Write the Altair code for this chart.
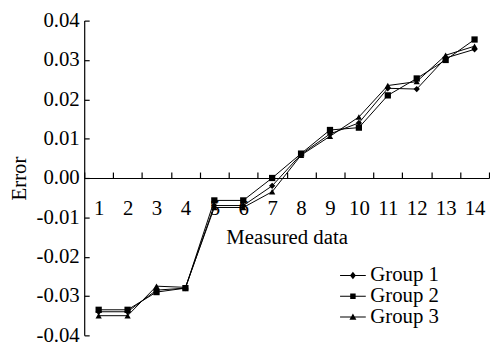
import altair as alt
import pandas as pd

measured = list(range(1, 15))
groups = ["Group 1", "Group 2", "Group 3"]
group1 = [-0.0340, -0.0340, -0.0285, -0.0280, -0.0070, -0.0070, -0.0020, 0.0060, 0.0112, 0.0140, 0.0228, 0.0226, 0.0305, 0.0327]
group2 = [-0.0335, -0.0335, -0.0290, -0.0280, -0.0057, -0.0057, 0.0000, 0.0062, 0.0122, 0.0128, 0.0210, 0.0253, 0.0300, 0.0352]
group3 = [-0.0350, -0.0350, -0.0275, -0.0278, -0.0075, -0.0075, -0.0035, 0.0058, 0.0106, 0.0155, 0.0235, 0.0245, 0.0312, 0.0335]
y_ticks = [-0.04, -0.03, -0.02, -0.01, 0.0, 0.01, 0.02, 0.03, 0.04]
x_edges = [i + 0.5 for i in range(0, 15)]

rows = []
for g, vals in zip(groups, [group1, group2, group3]):
    for m, v in zip(measured, vals):
        rows.append({"m": m, "err": v, "group": g})
df = pd.DataFrame(rows)

W, H = 409, 318
FONT = "Liberation Serif"
FS = 21

xscale = alt.Scale(domain=[0.5, 14.5], nice=False, zero=False)
yscale = alt.Scale(domain=[-0.04, 0.04], nice=False, zero=False)

label_expr = "datum.value < 0 ? '-' + format(abs(datum.value), '.2f') : format(datum.value, '.2f')"

lines = alt.Chart(df).mark_line(color="black", strokeWidth=1).encode(
    x=alt.X("m:Q", scale=xscale,
            axis=alt.Axis(orient="top", offset=-H / 2, values=x_edges, labels=False,
                          ticks=True, tickSize=6, domain=True, grid=False, title=None,
                          domainColor="black", tickColor="black", domainWidth=1.2, tickWidth=1.2)),
    y=alt.Y("err:Q", scale=yscale,
            axis=alt.Axis(orient="right", offset=-W, values=y_ticks, labels=False,
                          ticks=True, tickSize=5, domain=True, grid=False, title=None,
                          domainColor="black", tickColor="black", domainWidth=1.2, tickWidth=1.2)),
    detail="group:N",
)

points = alt.Chart(df).mark_point(filled=True, size=40, color="black", opacity=1).encode(
    x=alt.X("m:Q", scale=xscale,
            axis=alt.Axis(orient="bottom", offset=-H / 2, values=measured, format="d",
                          ticks=False, tickSize=0, domain=False, grid=False,
                          labelPadding=20, labelFont=FONT, labelFontSize=FS, labelColor="black",
                          title="Measured data", titleFont=FONT, titleFontSize=FS,
                          titleFontWeight="normal", titleColor="black", titlePadding=8)),
    y=alt.Y("err:Q", scale=yscale,
            axis=alt.Axis(orient="left", values=y_ticks, labelExpr=label_expr,
                          ticks=False, tickSize=0, domain=False, grid=False,
                          labelPadding=5, labelFont=FONT, labelFontSize=FS, labelColor="black",
                          title="Error", titleFont=FONT, titleFontSize=FS,
                          titleFontWeight="normal", titleColor="black", titlePadding=7)),
    shape=alt.Shape("group:N", scale=alt.Scale(domain=groups, range=["diamond", "square", "triangle-up"]),
                    legend=None),
)

# legend symbols: a thin filled bar (the line) plus the marker
bar = "M-2.6,-0.11H2.6V0.11H-2.6Z"
legend_paths = [
    bar + "M0,-0.75L0.6,0L0,0.75L-0.6,0Z",
    bar + "M-0.55,-0.55H0.55V0.55H-0.55Z",
    bar + "M0,-0.7L0.7,0.55H-0.7Z",
]

legend_layer = alt.Chart(df).mark_point(filled=True, opacity=0, color="black").encode(
    x=alt.X("m:Q", scale=xscale, axis=None),
    y=alt.Y("err:Q", scale=yscale, axis=None),
    shape=alt.Shape("group:N", scale=alt.Scale(domain=groups, range=legend_paths),
                    legend=alt.Legend(orient="none", legendX=261, legendY=247, title=None,
                                      labelFont=FONT, labelFontSize=FS, labelColor="black",
                                      symbolSize=100, symbolOpacity=1, symbolFillColor="black",
                                      labelOffset=7, rowPadding=-3, padding=0)),
)

chart = alt.layer(lines, points, legend_layer).resolve_axis(
    x="independent", y="independent"
).resolve_scale(shape="independent").properties(
    width=W, height=H, padding=0, background="white"
).configure_view(stroke=None)

chart.save("out.html", embed_options={"renderer": "svg", "actions": False})
